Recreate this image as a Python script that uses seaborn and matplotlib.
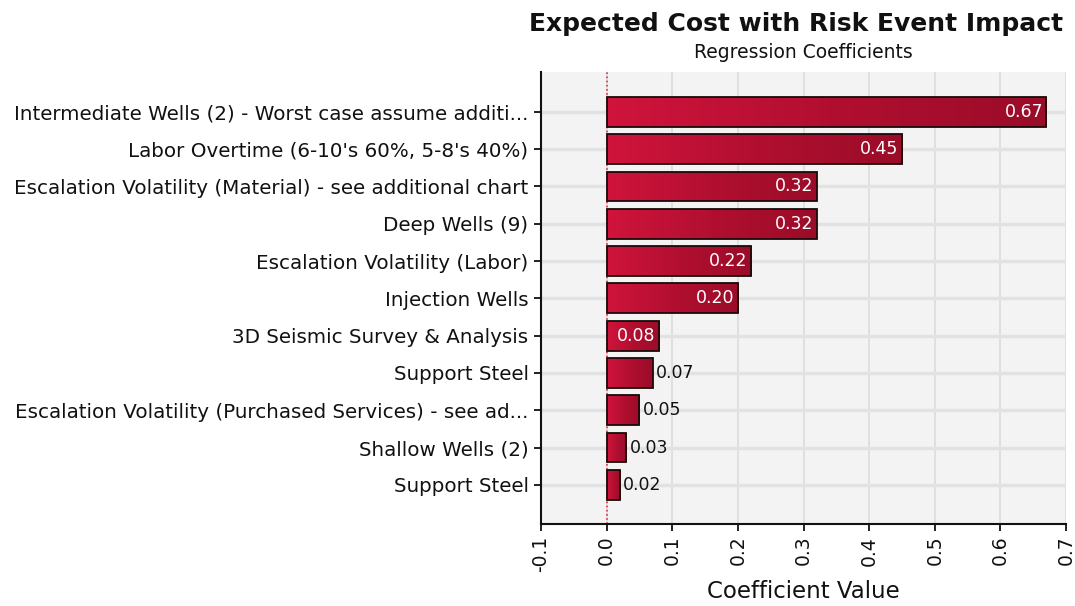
import numpy as np
import pandas as pd
import matplotlib
matplotlib.use("Agg")
import matplotlib.pyplot as plt
import seaborn as sns
from matplotlib.colors import LinearSegmentedColormap

categories = [
    "Intermediate Wells (2) - Worst case assume additi...",
    "Labor Overtime (6-10's 60%, 5-8's 40%)",
    "Escalation Volatility (Material) - see additional chart",
    "Deep Wells (9)",
    "Escalation Volatility (Labor)",
    "Injection Wells",
    "3D Seismic Survey & Analysis",
    "Support Steel",
    "Escalation Volatility (Purchased Services) - see ad...",
    "Shallow Wells (2)",
    "Support Steel",
]
values = [0.67, 0.45, 0.32, 0.32, 0.22, 0.20, 0.08, 0.07, 0.05, 0.03, 0.02]
labels = ["0.67", "0.45", "0.32", "0.32", "0.22", "0.20", "0.08", "0.07", "0.05", "0.03", "0.02"]
xticks = [-0.1, 0.0, 0.1, 0.2, 0.3, 0.4, 0.5, 0.6, 0.7]

df = pd.DataFrame({"pos": list(range(len(categories))), "val": values})

sns.set_style("ticks")
plt.rcParams['font.family'] = ['DejaVu Sans']
plt.rcParams['text.color'] = '#111111'
plt.rcParams['xtick.color'] = '#111111'
plt.rcParams['ytick.color'] = '#111111'
plt.rcParams['axes.labelcolor'] = '#111111'

fig = plt.figure(figsize=(10.75, 6.06), dpi=100)
ax = fig.add_axes([541/1075, 1 - 524/606, (1066-541)/1075, (524-72)/606])
ax.set_facecolor("#f3f3f3")

sns.barplot(data=df, x="val", y="pos", orient="h", ax=ax, color="#c0102e",
            width=0.8, edgecolor="#1a0a0a", linewidth=1.3, zorder=3)

cmap = LinearSegmentedColormap.from_list("g", ["#d0143c", "#b20f30", "#9a0c28"])
grad = np.linspace(0, 1, 256).reshape(1, -1)
for p in ax.patches:
    x0, y0 = p.get_x(), p.get_y()
    w, h = p.get_width(), p.get_height()
    im = ax.imshow(grad, extent=[x0, x0 + w, y0 + h, y0], aspect="auto",
                   cmap=cmap, zorder=3.5, interpolation="bicubic")
    im.set_clip_path(p)
    p.set_facecolor("none")
    p.set_zorder(4)

for i, (v, lab) in enumerate(zip(values, labels)):
    if v >= 0.08:
        ax.text(v - 0.005, i, lab, ha="right", va="center", color="white",
                fontsize=12.5, zorder=6)
    else:
        ax.text(v + 0.005, i, lab, ha="left", va="center", color="#111111",
                fontsize=12.5, zorder=6)

ax.axvline(0, color="#e0304a", linestyle=(0, (1, 1.5)), linewidth=1.2, zorder=2)

ax.set_xlim(-0.1, 0.7)
ax.set_ylim(11.05, -1.07)
ax.set_yticks(range(len(categories)))
ax.set_yticklabels(categories)
ax.set_xticks(xticks)
ax.set_xticklabels([f"{t:.1f}" for t in xticks], rotation=90, fontsize=13.5)
ax.tick_params(axis="y", labelsize=14.3, length=5, width=1.3, pad=4)
ax.tick_params(axis="x", length=5, width=1.3)

ax.grid(True, axis="x", color="#dcdcdc", linewidth=1.2, zorder=0)
ax.grid(True, axis="y", color="#e2e2e2", linewidth=2.5, zorder=0)
ax.set_axisbelow(True)

for s in ["top", "right"]:
    ax.spines[s].set_visible(False)
for s in ["left", "bottom"]:
    ax.spines[s].set_linewidth(1.5)
    ax.spines[s].set_color("#111111")

ax.set_ylabel("")
ax.set_xlabel("Coefficient Value", fontsize=16.5, labelpad=6)

cx = (541 + 1066) / 2 / 1075
fig.text(cx - 7/1075, 1 - 24/606, "Expected Cost with Risk Event Impact", ha="center",
         va="center", fontsize=18, fontweight="bold", color="#111111")
fig.text(cx, 1 - 53/606, "Regression Coefficients", ha="center", va="center",
         fontsize=13.5, color="#111111")

fig.savefig("out.png", dpi=100, facecolor="white")
